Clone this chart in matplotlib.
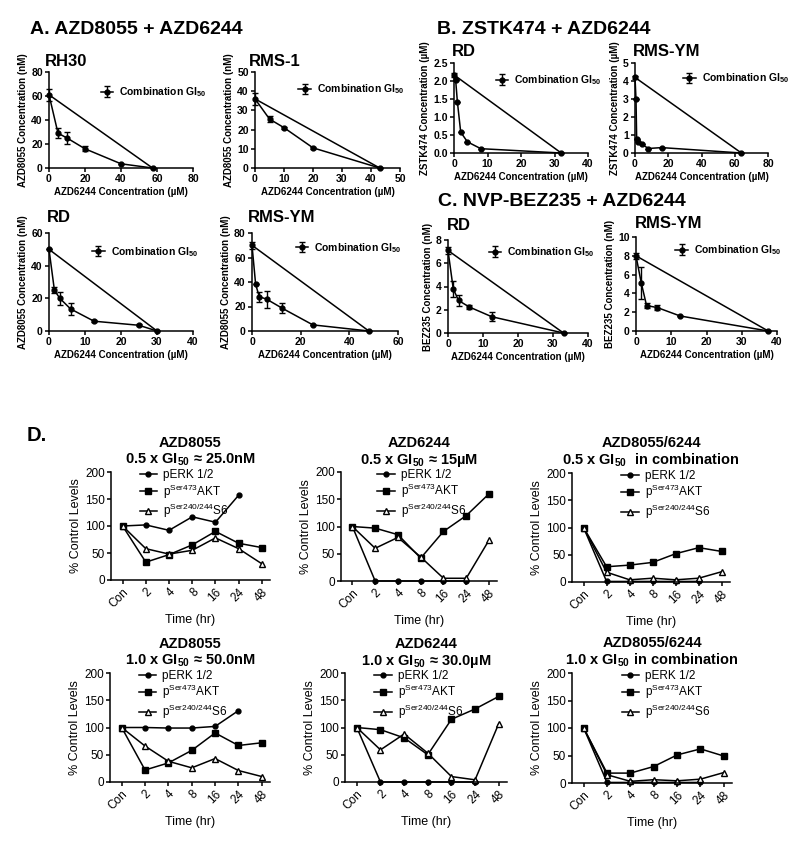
import numpy as np
import matplotlib.pyplot as plt

plt.rcParams['font.family'] = ['Liberation Sans', 'DejaVu Sans']
plt.rcParams['mathtext.default'] = 'regular'

W, H = 800, 841

# ---- panels A-C: isobolograms (x = AZD6244 uM) ----
a_rh30_x = [0, 5, 10, 20, 40, 57.5]
a_rh30_y = [61, 29, 25, 16, 3.5, 0]
a_rh30_e = [5, 4, 5, 2, 0, 0]

a_rms1_x = [0, 5, 10, 20, 43]
a_rms1_y = [36, 25.5, 21, 10.5, 0]
a_rms1_e = [3, 1.5, 0.5, 0.5, 0]

a_rd_x = [0, 1.5, 3, 6, 12.5, 25, 30]
a_rd_y = [50, 25, 20, 13.5, 6, 3.5, 0]
a_rd_e = [0, 2, 4, 3.5, 0.5, 0.5, 0]

a_ym_x = [0, 1.5, 3, 6, 12.5, 25, 48]
a_ym_y = [70, 38, 28, 26, 18.5, 5, 0]
a_ym_e = [3, 0, 4, 7, 4, 0, 0]

b_rd_x = [0, 0.5, 1, 2, 4, 8, 32]
b_rd_y = [2.17, 2.02, 1.43, 0.58, 0.31, 0.12, 0]
b_rd_e = [0.05, 0, 0, 0, 0, 0, 0]

b_ym_x = [0, 0.6, 1, 2, 4, 8, 16, 64]
b_ym_y = [4.2, 3.0, 0.8, 0.6, 0.5, 0.25, 0.3, 0]
b_ym_e = [0.1, 0, 0, 0, 0, 0, 0, 0]

c_rd_x = [0, 1.5, 3, 6, 12.5, 33]
c_rd_y = [7.1, 3.8, 2.8, 2.25, 1.4, 0]
c_rd_e = [0.3, 0.7, 0.5, 0.2, 0.4, 0]

c_ym_x = [0, 1.5, 3, 6, 12.5, 37.5]
c_ym_y = [8, 5.1, 2.7, 2.5, 1.6, 0]
c_ym_e = [0.3, 1.7, 0.3, 0.3, 0, 0]

# ---- panel D: % control levels ----
times = ['Con', '2', '4', '8', '16', '24', '48']
nan = np.nan
perk_8055_05 = [100, 102, 92, 117, 107, 157, nan]
akt_8055_05 = [100, 33, 47, 65, 90, 68, 60]
s6_8055_05 = [100, 58, 48, 55, 78, 58, 30]

perk_6244_05 = [100, 0, 0, 0, 0, 0, nan]
akt_6244_05 = [100, 97, 85, 42, 91, 120, 160]
s6_6244_05 = [100, 60, 80, 44, 5, 5, 75]

perk_comb_05 = [100, 1, 1, 1, 1, 1, nan]
akt_comb_05 = [100, 28, 31, 36, 52, 63, 56]
s6_comb_05 = [100, 18, 4, 7, 4, 7, 19]

perk_8055_10 = [100, 100, 99, 99, 102, 131, nan]
akt_8055_10 = [100, 22, 35, 58, 90, 67, 72]
s6_8055_10 = [100, 66, 38, 26, 43, 21, 10]

perk_6244_10 = [100, 0, 0, 0, 0, 0, nan]
akt_6244_10 = [100, 96, 81, 50, 115, 134, 157]
s6_6244_10 = [100, 59, 88, 53, 10, 4, 107]

perk_comb_10 = [100, 1, 1, 1, 1, 1, nan]
akt_comb_10 = [100, 18, 18, 30, 51, 62, 49]
s6_comb_10 = [100, 15, 3, 6, 4, 7, 19]

fig = plt.figure(figsize=(W / 100, H / 100), dpi=100)


def px_axes(x0, y0, x1, y1):
    return fig.add_axes([x0 / W, 1 - y1 / H, (x1 - x0) / W, (y1 - y0) / H])


def style(ax, fs, bold):
    for s in ['top', 'right']:
        ax.spines[s].set_visible(False)
    for s in ['left', 'bottom']:
        ax.spines[s].set_linewidth(1.1)
    ax.tick_params(direction='out', length=3, width=1.1, labelsize=fs, pad=1.5)
    if bold:
        for lab in ax.get_xticklabels() + ax.get_yticklabels():
            lab.set_fontweight('bold')


def isobol(box, x, y, e, xmax, ymax, xticks, yticks, ylab, leg, fmt=None):
    ax = px_axes(*box)
    # additivity line between the single-agent GI50s
    ax.plot([x[0], x[-1]], [y[0], y[-1]], color='black', lw=1.1, clip_on=False)
    ax.errorbar(x, y, yerr=e, color='black', lw=1.1, marker='o', ms=3.5,
                capsize=2.5, elinewidth=1, clip_on=False,
                label='Combination GI$_{50}$')
    ax.set_xlim(0, xmax)
    ax.set_ylim(0, ymax)
    ax.set_xticks(xticks)
    ax.set_yticks(yticks)
    if fmt:
        ax.set_yticklabels([fmt % t for t in yticks])
    ax.set_xlabel('AZD6244 Concentration (µM)', fontsize=7, fontweight='bold', labelpad=2)
    ax.set_ylabel(ylab, fontsize=7, fontweight='bold', labelpad=2)
    style(ax, 7.5, True)
    ax.legend(loc='center left', bbox_to_anchor=leg, frameon=False,
              prop={'size': 7.5, 'weight': 'bold'}, handlelength=1.2,
              handletextpad=0.6, borderaxespad=0)
    return ax


isobol((49, 72, 193, 168), a_rh30_x, a_rh30_y, a_rh30_e, 80, 80,
       [0, 20, 40, 60, 80], [0, 20, 40, 60, 80], 'AZD8055 Concentration (nM)', (0.33, 0.79))
isobol((255, 72, 400, 168), a_rms1_x, a_rms1_y, a_rms1_e, 50, 50,
       [0, 10, 20, 30, 40, 50], [0, 10, 20, 30, 40, 50], 'AZD8055 Concentration (nM)', (0.27, 0.82))
isobol((49, 233, 193, 331), a_rd_x, a_rd_y, a_rd_e, 40, 60,
       [0, 10, 20, 30, 40], [0, 20, 40, 60], 'AZD8055 Concentration (nM)', (0.27, 0.81))
isobol((252, 233, 398, 331), a_ym_x, a_ym_y, a_ym_e, 60, 80,
       [0, 20, 40, 60], [0, 20, 40, 60, 80], 'AZD8055 Concentration (nM)', (0.27, 0.85))
isobol((454, 63, 588, 153), b_rd_x, b_rd_y, b_rd_e, 40, 2.5,
       [0, 10, 20, 30, 40], [0, 0.5, 1.0, 1.5, 2.0, 2.5], 'ZSTK474 Concentration (µM)',
       (0.28, 0.81), fmt='%.1f')
isobol((635, 63, 768, 153), b_ym_x, b_ym_y, b_ym_e, 80, 5,
       [0, 20, 40, 60, 80], [0, 1, 2, 3, 4, 5], 'ZSTK474 Concentration (µM)', (0.33, 0.83))
isobol((448, 240, 588, 333), c_rd_x, c_rd_y, c_rd_e, 40, 8,
       [0, 10, 20, 30, 40], [0, 2, 4, 6, 8], 'BEZ235 Concentration (nM)', (0.26, 0.87))
isobol((636, 237, 777, 331), c_ym_x, c_ym_y, c_ym_e, 40, 10,
       [0, 10, 20, 30, 40], [0, 2, 4, 6, 8, 10], 'BEZ235 Concentration (nM)', (0.25, 0.86))

# headings
fig.text(30 / W, 1 - 30 / H, 'A. AZD8055 + AZD6244', fontsize=14, fontweight='bold', va='center')
fig.text(437 / W, 1 - 29 / H, 'B. ZSTK474 + AZD6244', fontsize=14, fontweight='bold', va='center')
fig.text(438 / W, 1 - 202 / H, 'C. NVP-BEZ235 + AZD6244', fontsize=14, fontweight='bold', va='center')
fig.text(27 / W, 1 - 435 / H, 'D.', fontsize=14.5, fontweight='bold', va='center')

subtitles = [('RH30', 45, 62), ('RMS-1', 249, 62), ('RD', 47, 218), ('RMS-YM', 248, 218),
             ('RD', 452, 52), ('RMS-YM', 633, 52), ('RD', 447, 225), ('RMS-YM', 635, 223)]
for t, x, y in subtitles:
    fig.text(x / W, 1 - y / H, t, fontsize=12, fontweight='bold', va='center')


def timecourse(box, perk, akt, s6, title, leg_x):
    ax = px_axes(*box)
    xs = np.arange(len(times))
    ax.plot(xs, perk, color='black', lw=1.1, marker='o', ms=3.5, clip_on=False,
            label='pERK 1/2')
    ax.plot(xs, akt, color='black', lw=1.1, marker='s', ms=4.5, clip_on=False,
            label='p$^{Ser473}$AKT')
    ax.plot(xs, s6, color='black', lw=1.1, marker='^', ms=5, mfc='white', clip_on=False,
            label='p$^{Ser240/244}$S6')
    ax.set_xlim(-0.5, 6.35)
    ax.set_ylim(0, 200)
    ax.set_yticks([0, 50, 100, 150, 200])
    ax.set_xticks(xs)
    ax.set_xticklabels(times, rotation=45, ha='right', rotation_mode='anchor')
    ax.set_ylabel('% Control Levels', fontsize=9, labelpad=2)
    ax.set_xlabel('Time (hr)', fontsize=9, labelpad=3)
    ax.set_title(title, fontsize=10.5, fontweight='bold', pad=6, linespacing=1.1)
    style(ax, 8.5, False)
    ax.legend(loc='upper left', bbox_to_anchor=(leg_x, 1.07), frameon=False, fontsize=8.5,
              handlelength=1.5, handletextpad=0.5, labelspacing=0.1, borderaxespad=0)
    return ax


timecourse((111, 472, 270, 580), perk_8055_05, akt_8055_05, s6_8055_05,
           'AZD8055\n0.5 x GI$_{50}$ ≈ 25.0nM', 0.15)
timecourse((341, 472, 497, 581), perk_6244_05, akt_6244_05, s6_6244_05,
           'AZD6244\n0.5 x GI$_{50}$ ≈ 15µM', 0.2)
timecourse((572, 473, 730, 582), perk_comb_05, akt_comb_05, s6_comb_05,
           'AZD8055/6244\n0.5 x GI$_{50}$  in combination', 0.28)
timecourse((110, 673, 270, 782), perk_8055_10, akt_8055_10, s6_8055_10,
           'AZD8055\n1.0 x GI$_{50}$ ≈ 50.0nM', 0.15)
timecourse((345, 673, 507, 782), perk_6244_10, akt_6244_10, s6_6244_10,
           'AZD6244\n1.0 x GI$_{50}$ ≈ 30.0µM', 0.15)
timecourse((572, 673, 732, 783), perk_comb_10, akt_comb_10, s6_comb_10,
           'AZD8055/6244\n1.0 x GI$_{50}$ in combination', 0.28)

fig.savefig('out.png', dpi=100)
